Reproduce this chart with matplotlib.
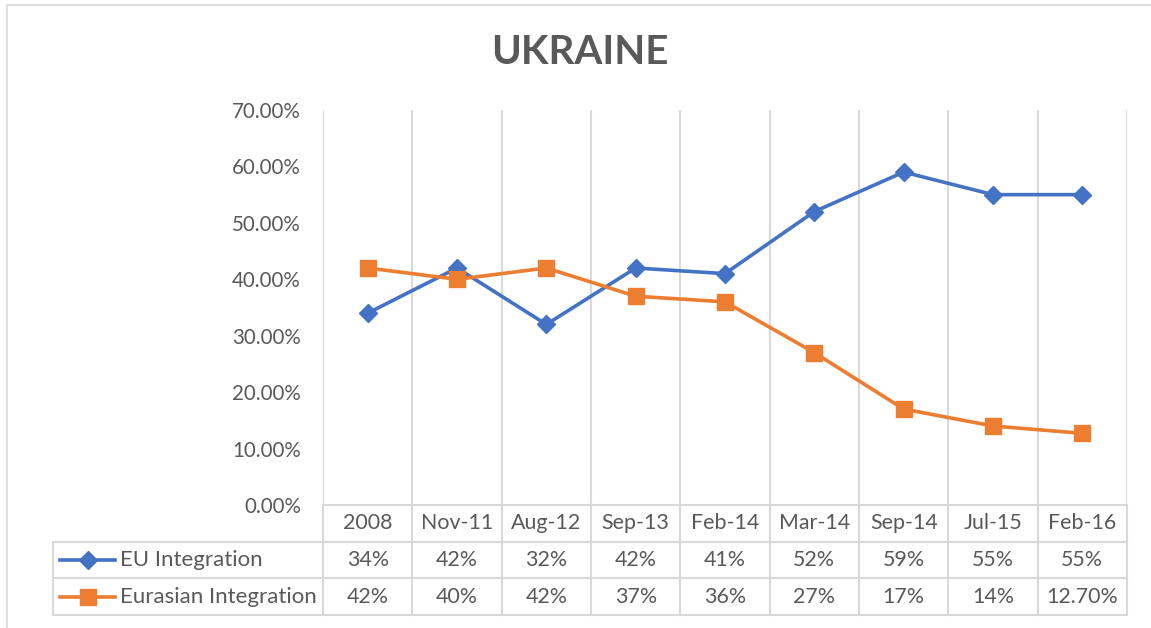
import matplotlib
matplotlib.use("Agg")
import matplotlib.pyplot as plt
import numpy as np
from matplotlib.lines import Line2D
from matplotlib.ticker import FuncFormatter

# data
categories = ["2008", "Nov-11", "Aug-12", "Sep-13", "Feb-14", "Mar-14", "Sep-14", "Jul-15", "Feb-16"]
eu = [0.34, 0.42, 0.32, 0.42, 0.41, 0.52, 0.59, 0.55, 0.55]
eurasian = [0.42, 0.40, 0.42, 0.37, 0.36, 0.27, 0.17, 0.14, 0.127]
eu_labels = ["34%", "42%", "32%", "42%", "41%", "52%", "59%", "55%", "55%"]
eurasian_labels = ["42%", "40%", "42%", "37%", "36%", "27%", "17%", "14%", "12.70%"]
series_names = ["EU Integration", "Eurasian Integration"]

BLUE = "#4472C4"
ORANGE = "#ED7D31"
TEXT = "#595959"
GRID = "#D9D9D9"

plt.rcParams['font.family'] = ['Lato', 'DejaVu Sans']

W, H = 1151, 628
fig = plt.figure(figsize=(W / 100, H / 100), dpi=100)

# plot area in pixels
left, right, top, bottom = 323, 1127, 110, 505
ax = fig.add_axes([left / W, 1 - bottom / H, (right - left) / W, (bottom - top) / H])
ax_w = right - left
ax_h = bottom - top

n = len(categories)
x = np.arange(n)
ax.vlines(np.arange(n + 1) - 0.5, 0, 0.7, color=GRID, lw=1.5, zorder=1)
ax.plot(x, eu, color=BLUE, lw=2.6, marker='D', ms=9, zorder=3)
ax.plot(x, eurasian, color=ORANGE, lw=2.6, marker='s', ms=11, zorder=3)

ax.set_xlim(-0.5, n - 0.5)
ax.set_ylim(0, 0.7)
ax.set_yticks(np.arange(0, 0.71, 0.1))
ax.yaxis.set_major_formatter(FuncFormatter(lambda v, p: f"{v * 100:.2f}%"))
ax.tick_params(axis='y', length=0, pad=16, labelsize=14.8, labelcolor=TEXT)
ax.set_xticks([])
for s in ax.spines.values():
    s.set_visible(False)

# data table below the plot
tbl_left, tbl_bottom = 53, 615
label_w = left - tbl_left
col_w = ax_w / n
cell_text = [[""] + eu_labels, [""] + eurasian_labels]
tbl = ax.table(cellText=cell_text, colLabels=[""] + categories,
               colWidths=[label_w / ax_w] + [col_w / ax_w] * n,
               cellLoc='center',
               bbox=[(tbl_left - left) / ax_w, -(tbl_bottom - bottom) / ax_h,
                     (right - tbl_left) / ax_w, (tbl_bottom - bottom) / ax_h])
tbl.auto_set_font_size(False)
tbl.set_fontsize(15.4)
for (r, c), cell in tbl.get_celld().items():
    cell.set_edgecolor(GRID)
    cell.set_linewidth(1.5)
    cell.get_text().set_color(TEXT)
    if r == 0 and c == 0:
        cell.visible_edges = 'open'

# legend keys + series names in the row label column
row_h = (tbl_bottom - bottom) / 3
for i, (name, col, mk, ms) in enumerate(zip(series_names, [BLUE, ORANGE], ['D', 's'], [9, 11])):
    yc = -(row_h * (i + 1.5)) / ax_h
    ax.add_line(Line2D([(60 - left) / ax_w, (115 - left) / ax_w], [yc, yc],
                       transform=ax.transAxes, color=col, lw=2.6, clip_on=False))
    ax.add_line(Line2D([(88 - left) / ax_w], [yc], transform=ax.transAxes, color=col,
                       marker=mk, ms=ms, clip_on=False))
    ax.text((120 - left) / ax_w, yc, name, transform=ax.transAxes, ha='left', va='center',
            fontsize=16, color=TEXT)

fig.text(580 / W, 1 - 53 / H, "UKRAINE", ha='center', va='center', fontsize=29,
         fontweight='bold', color=TEXT)

# chart area border
fig.add_artist(Line2D([7 / W, 7 / W, 1.0], [0.0, 1 - 5 / H, 1 - 5 / H],
                      transform=fig.transFigure, color=GRID, lw=1.2))

fig.savefig("out.png", dpi=100)
